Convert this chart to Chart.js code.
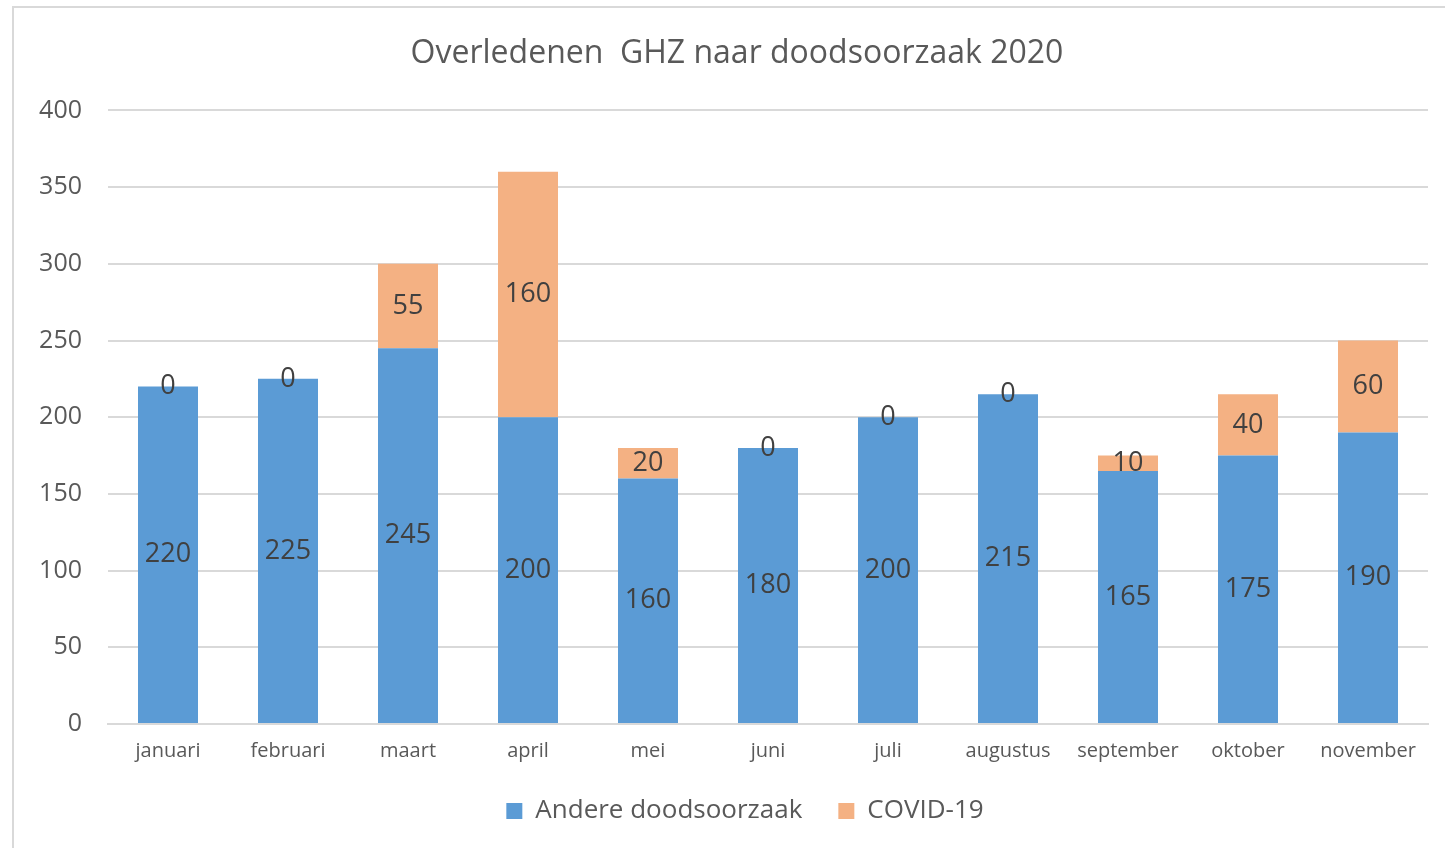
<!DOCTYPE html>
<html>
<head>
<meta charset="utf-8">
<script src="https://cdn.jsdelivr.net/npm/chart.js@4/dist/chart.umd.min.js"></script>
<style>
  html, body { margin: 0; padding: 0; background: #fff; }
  #wrap { position: relative; width: 1445px; height: 848px; overflow: hidden; }
  #frame { position: absolute; left: 12px; top: 6px; width: 1440px; height: 860px; border: 2px solid #d9d9d9; box-sizing: border-box; }
  canvas { position: absolute; left: 0; top: 0; }
</style>
</head>
<body>
<div id="wrap">
  <div id="frame"></div>
  <canvas id="chart" width="1445" height="848"></canvas>
</div>
<script>
const months = ['januari', 'februari', 'maart', 'april', 'mei', 'juni', 'juli', 'augustus', 'september', 'oktober', 'november'];
const andere = [220, 225, 245, 200, 160, 180, 200, 215, 165, 175, 190];
const covid = [0, 0, 55, 160, 20, 0, 0, 0, 10, 40, 60];
const yTicks = [0, 50, 100, 150, 200, 250, 300, 350, 400];

const FONT = "'Open Sans', sans-serif";

// draws the value in the middle of every bar segment
const valueLabels = {
    id: 'valueLabels',
    afterDatasetsDraw(chart) {
        const ctx = chart.ctx;
        ctx.save();
        ctx.font = '27px ' + FONT;
        ctx.fillStyle = '#404040';
        ctx.textAlign = 'center';
        ctx.textBaseline = 'middle';
        chart.data.datasets.forEach((ds, i) => {
            chart.getDatasetMeta(i).data.forEach((bar, j) => {
                const y = (bar.y + bar.base) / 2;
                ctx.fillText(String(ds.data[j]), bar.x, y);
            });
        });
        ctx.restore();
    }
};

// title and legend are centred a bit right of the canvas middle in the original
const shiftBoxes = {
    id: 'shiftBoxes',
    afterLayout(chart) {
        if (chart.titleBlock) chart.titleBlock.left = 46;
        if (chart.legend) chart.legend.left = 62;
    }
};

new Chart(document.getElementById('chart'), {
    type: 'bar',
    data: {
        labels: months,
        datasets: [
            { label: 'Andere doodsoorzaak', data: andere, backgroundColor: '#5b9bd5' },
            { label: 'COVID-19', data: covid, backgroundColor: '#f4b183' }
        ]
    },
    options: {
        responsive: false,
        animation: false,
        layout: { padding: { left: 0, right: 17, top: 0, bottom: 14 } },
        datasets: { bar: { categoryPercentage: 1, barPercentage: 0.5 } },
        scales: {
            x: {
                stacked: true,
                grid: { display: false },
                border: { color: '#d9d9d9', width: 2 },
                ticks: { color: '#595959', font: { family: FONT, size: 20 }, padding: 7, maxRotation: 0 },
                afterFit(scale) { scale.height = 38; }
            },
            y: {
                stacked: true,
                min: 0,
                max: 400,
                afterBuildTicks(scale) { scale.ticks = yTicks.map(v => ({ value: v })); },
                grid: { color: '#d9d9d9', lineWidth: 2, drawTicks: false },
                border: { display: false },
                ticks: { color: '#595959', font: { family: FONT, size: 25 }, padding: 26 },
                afterFit(scale) { scale.width = 108; }
            }
        },
        plugins: {
            title: {
                display: true,
                text: 'Overledenen  GHZ naar doodsoorzaak 2020',
                color: '#595959',
                font: { family: FONT, size: 32, weight: 'normal' },
                padding: { top: 35, bottom: 37 }
            },
            legend: {
                position: 'bottom',
                labels: {
                    color: '#595959',
                    font: { family: FONT, size: 26 },
                    boxWidth: 16,
                    boxHeight: 16,
                    padding: 36
                }
            },
            tooltip: { enabled: false }
        }
    },
    plugins: [valueLabels, shiftBoxes]
});
</script>
</body>
</html>
